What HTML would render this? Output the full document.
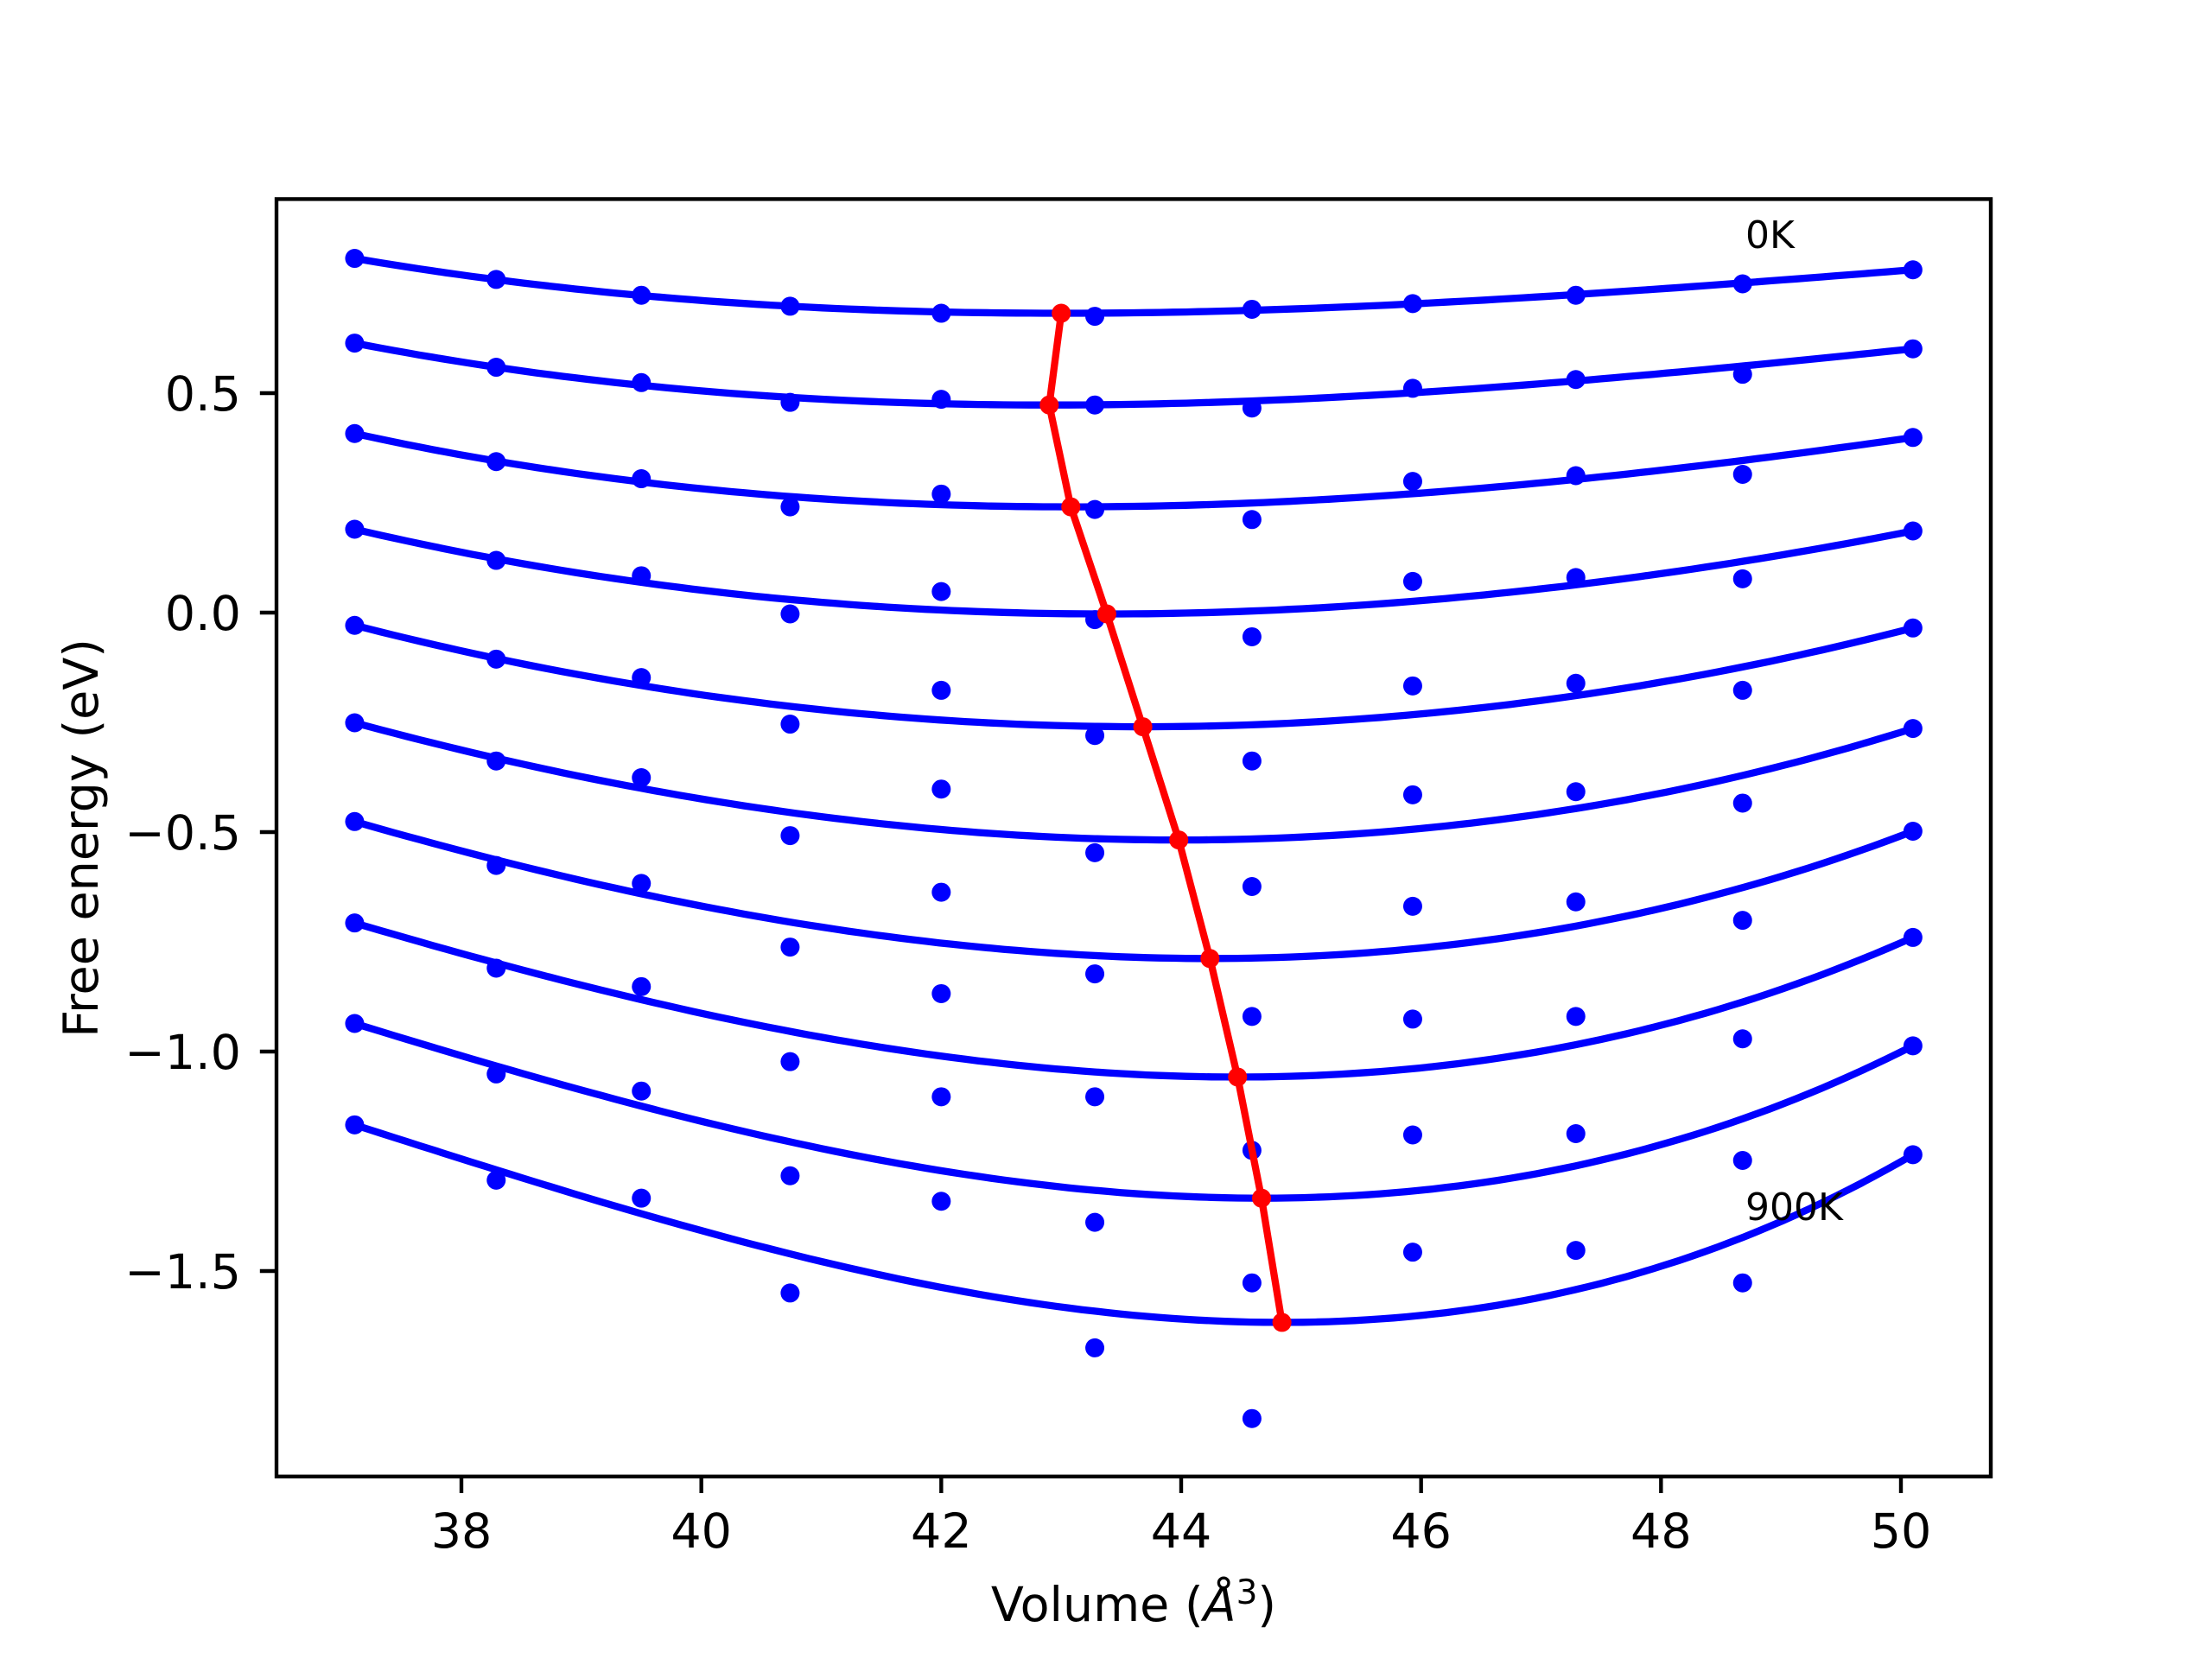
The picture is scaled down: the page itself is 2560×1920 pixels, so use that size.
<!DOCTYPE html>
<html><head><meta charset="utf-8"><style>
html,body{margin:0;padding:0;background:#fff}
svg{display:block}
text{font-family:"DejaVu Sans","Liberation Sans",sans-serif}
</style></head><body>
<svg id="chart" width="2560" height="1920" viewBox="0 0 2560 1920" xmlns="http://www.w3.org/2000/svg">
<rect x="0" y="0" width="2560" height="1920" fill="#fff"/>
<g id="plot"></g>
<rect x="320" y="230.4" width="1984" height="1478.4" fill="none" stroke="#000" stroke-width="4.4"/>
<g id="xticks"></g>
<g id="yticks"></g>
<text x="1312" y="1876" font-size="55.5" text-anchor="middle">Volume (<tspan font-style="italic">Å</tspan><tspan font-size="39" dy="-20">3</tspan><tspan dy="20">)</tspan></text>
<text x="0" y="0" font-size="55.5" text-anchor="middle" transform="translate(113,970) rotate(-90)">Free energy (eV)</text>
<text x="2020" y="287" font-size="44">0K</text>
<text x="2020" y="1412" font-size="44">900K</text>
</svg>
<script>
const volumes = [37.11, 38.29, 39.5, 40.74, 42.0, 43.28, 44.59, 45.93, 47.29, 48.68, 50.1];
const energies0 = [0.807,0.759,0.723,0.698,0.682,0.675,0.691,0.704,0.723,0.749,0.781];
const energies1 = [0.614,0.559,0.524,0.479,0.486,0.473,0.466,0.511,0.531,0.543,0.601];
const energies2 = [0.408,0.344,0.305,0.241,0.270,0.235,0.212,0.299,0.312,0.315,0.399];
const energies3 = [0.190,0.119,0.084,-0.003,0.048,-0.016,-0.055,0.071,0.080,0.077,0.186];
const energies4 = [-0.029,-0.106,-0.148,-0.254,-0.177,-0.280,-0.338,-0.167,-0.161,-0.177,-0.035];
const energies5 = [-0.251,-0.338,-0.376,-0.508,-0.402,-0.547,-0.624,-0.415,-0.408,-0.434,-0.264];
const energies6 = [-0.476,-0.576,-0.617,-0.762,-0.637,-0.823,-0.920,-0.669,-0.659,-0.701,-0.498];
const energies7 = [-0.707,-0.810,-0.852,-1.023,-0.868,-1.103,-1.225,-0.926,-0.920,-0.971,-0.740];
const energies8 = [-0.936,-1.051,-1.090,-1.283,-1.103,-1.389,-1.527,-1.190,-1.187,-1.248,-0.987];
const energies9 = [-1.167,-1.293,-1.334,-1.550,-1.341,-1.675,-1.836,-1.457,-1.453,-1.527,-1.235];
const minVolumes = [43.0, 42.9, 43.08, 43.38, 43.68, 43.98, 44.24, 44.47, 44.67, 44.84];
const minEnergies = [0.682, 0.473, 0.241, -0.003, -0.26, -0.518, -0.788, -1.058, -1.334, -1.617];
const xTicks = [38, 40, 42, 44, 46, 48, 50];
const yTicks = [0.5, 0.0, -0.5, -1.0, -1.5];
const yTickLabels = ["0.5", "0.0", "\u22120.5", "\u22121.0", "\u22121.5"];

const NS = "http://www.w3.org/2000/svg";
const X0 = 534, XS = (2200 - 534) / 12;
function xs(v){ return X0 + (v - 38) * XS; }
function ys(e){ return 709 - 508 * e; }
function mk(tag, attrs, parent){ const el = document.createElementNS(NS, tag); for (const k in attrs) el.setAttribute(k, attrs[k]); parent.appendChild(el); return el; }

const plot = document.getElementById('plot');
const rows = [energies0, energies1, energies2, energies3, energies4, energies5, energies6, energies7, energies8, energies9];
rows.forEach((row, i) => {
  const xm = minVolumes[i], m = minEnergies[i];
  const xa = volumes[0], xb = volumes[volumes.length - 1];
  const da = xa - xm, db = xb - xm, fa = row[0] - m, fb = row[row.length - 1] - m;
  const det = da*da*db*db*db - db*db*da*da*da;
  const c2 = (fa*db*db*db - fb*da*da*da) / det;
  const c3 = (da*da*fb - db*db*fa) / det;
  let d = "";
  for (let k = 0; k <= 120; k++) {
    const x = xa + (xb - xa) * k / 120, dd = x - xm;
    const f = m + c2*dd*dd + c3*dd*dd*dd;
    d += (k ? "L" : "M") + xs(x).toFixed(1) + "," + ys(f).toFixed(1);
  }
  const p = mk('path', {d: d, fill: 'none', stroke: '#0000ff', 'stroke-width': 8.3}, plot);
  
  
  row.forEach((e, j) => {
    const c = mk('circle', {cx: xs(volumes[j]), cy: ys(e), r: 11, fill: '#0000ff'}, plot);
    
    
  });
});
let rd = "";
minVolumes.forEach((v, i) => { rd += (i ? "L" : "M") + xs(v).toFixed(1) + "," + ys(minEnergies[i]).toFixed(1); });
const rl = mk('path', {d: rd, fill: 'none', stroke: '#ff0000', 'stroke-width': 8.3}, plot);


minVolumes.forEach((v, i) => {
  const c = mk('circle', {cx: xs(v), cy: ys(minEnergies[i]), r: 11, fill: '#ff0000'}, plot);
  
  
});

const xg = document.getElementById('xticks');
xTicks.forEach(t => {
  const l = mk('line', {x1: xs(t), x2: xs(t), y1: 1708.8, y2: 1728, stroke: '#000', 'stroke-width': 4.4}, xg);
  
  
  const tx = mk('text', {x: xs(t), y: 1791, 'font-size': 55.5, 'text-anchor': 'middle'}, xg);
  tx.textContent = String(t);
  
  
});
const yg = document.getElementById('yticks');
yTicks.forEach((t, i) => {
  const l = mk('line', {x1: 300.8, x2: 320, y1: ys(t), y2: ys(t), stroke: '#000', 'stroke-width': 4.4}, yg);
  
  
  const tx = mk('text', {x: 279, y: ys(t) + 20, 'font-size': 55.5, 'text-anchor': 'end'}, yg);
  tx.textContent = yTickLabels[i];
  
  
});
</script>
</body></html>
